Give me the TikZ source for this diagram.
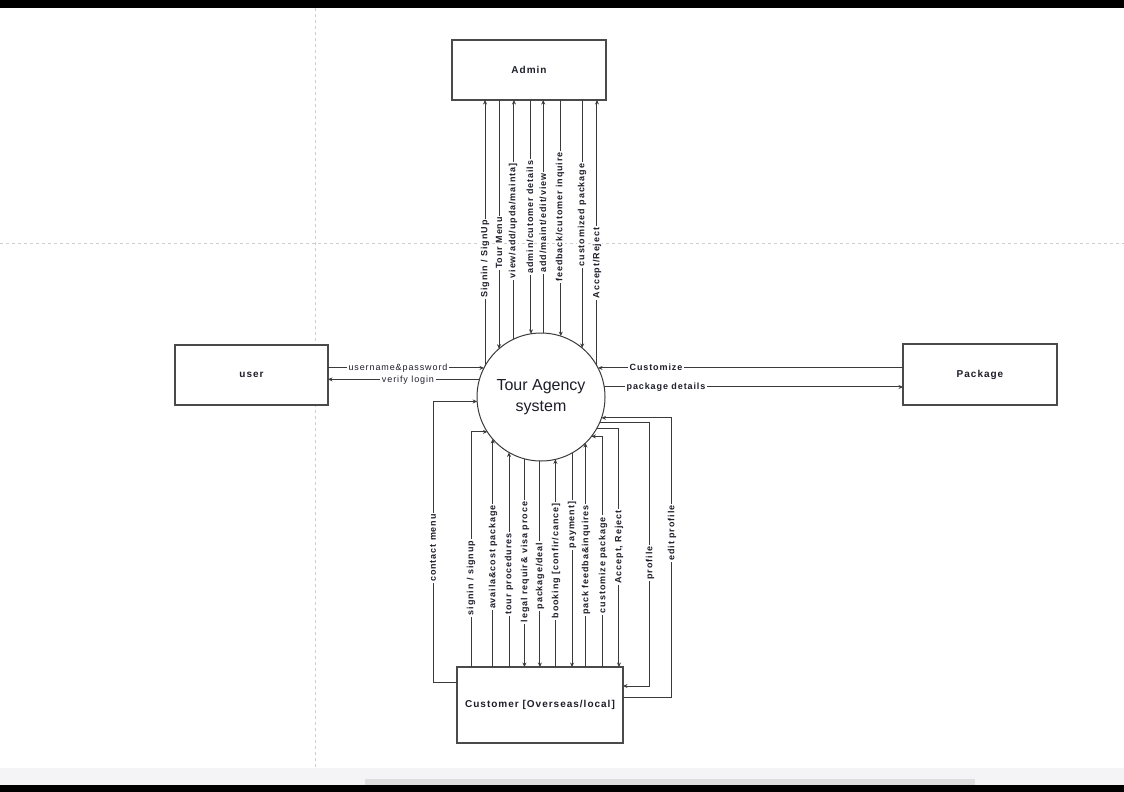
\documentclass[tikz,border=0pt]{standalone}
\usepackage{fontspec}
\setmainfont{Liberation Sans}
\newfontfamily\labfont[LetterSpace=10]{Liberation Sans}
\usetikzlibrary{arrows.meta,calc}
\definecolor{linec}{HTML}{3A3A3A}
\definecolor{boxc}{HTML}{4A4A4A}
\definecolor{gridc}{HTML}{CFCFCF}
\definecolor{txtc}{HTML}{1E1E2A}
\definecolor{stripc}{HTML}{F4F4F6}
\definecolor{scrollc}{HTML}{DEDEDE}
\begin{document}
\begin{tikzpicture}[x=1pt,y=-1pt,
  ln/.style={draw=linec,line width=1pt},
  arr/.style={ln,-{Stealth[length=4.5pt,width=4pt]}},
  box/.style={draw=boxc,line width=1.3pt,fill=white,inner sep=0pt,outer sep=0pt,text=txtc,
    font=\labfont\bfseries\fontsize{10}{12}\selectfont},
  lab/.style={fill=white,inner xsep=1.5pt,inner ysep=0.8pt,text=txtc,
    font=\labfont\bfseries\fontsize{9}{10}\selectfont},
  rlab/.style={lab,font=\labfont\fontsize{9}{10}\selectfont},
  vlab/.style={lab,rotate=90},
  grid/.style={draw=gridc,line width=0.8pt,dash pattern=on 3pt off 3pt}
]
% background and frame
\fill[white] (0,0) rectangle (1124,792);
\useasboundingbox (0,0) rectangle (1124,792);
\fill[black] (0,0) rectangle (1124,8);
\fill[stripc] (0,768) rectangle (1124,785);
\fill[scrollc] (365,779) rectangle (975,785);
\fill[black] (0,785) rectangle (1124,792);
\draw[grid] (315,8) -- (315,768);
\draw[grid] (0,243) -- (1124,243);

% entities
\node[box,minimum width=154pt,minimum height=60pt] (admin) at (529,70) {Admin};
\node[box,minimum width=153pt,minimum height=60pt] (user) at (251.5,375) {user};
\node[box,minimum width=154pt,minimum height=61pt] (pkg) at (980,374.5) {Package};
\node[box,minimum width=166pt,minimum height=76pt] (cust) at (540,705) {Customer [Overseas/local]};
\node[draw=linec,line width=1pt,circle,minimum size=128pt,inner sep=0pt,outer sep=0pt,fill=white,
  align=center,text=txtc,font=\fontsize{16}{21.5}\selectfont] (sys) at (541,397) {Tour Agency\\system};

% admin flows
\draw[arr] (sys.151) -- (sys.151 |- admin.south);
\draw[arr] (sys.131 |- admin.south) -- (sys.131);
\draw[arr] (sys.115.9) -- (sys.115.9 |- admin.south);
\draw[arr] (sys.99.9 |- admin.south) -- (sys.99.9);
\draw[arr] (sys.88.2) -- (sys.88.2 |- admin.south);
\draw[arr] (sys.72.7 |- admin.south) -- (sys.72.7);
\draw[arr] (sys.50.2 |- admin.south) -- (sys.50.2);
\draw[arr] (sys.29) -- (sys.29 |- admin.south);

% user flows
\draw[arr] (user.east |- sys.153.1) -- (sys.153.1);
\draw[arr] (sys.164.6) -- (user.east |- sys.164.6);

% package flows
\draw[arr] (sys.27.9 -| pkg.west) -- (sys.27.9);
\draw[arr] (sys.9) -- (sys.9 -| pkg.west);

% customer flows
\coordinate (b1) at ($(sys.213.2)+(-16,0)$);
\coordinate (b2) at ($(sys.322.4)+(11,0)$);
\coordinate (b3) at ($(sys.331)+(22,0)$);
\coordinate (b4) at ($(sys.337)+(50,0)$);
\coordinate (b5) at ($(sys.341.8)+(70,0)$);
\draw[arr] ($(cust.north west)+(0,15)$) -| ($(sys.184.5)+(-44,0)$) -- (sys.184.5);
\draw[arr] (b1 |- cust.north) -- (b1) -- (sys.213.2);
\draw[arr] (sys.221.4 |- cust.north) -- (sys.221.4);
\draw[arr] (sys.240 |- cust.north) -- (sys.240);
\draw[arr] (sys.255.5) -- (sys.255.5 |- cust.north);
\draw[arr] (sys.269.1) -- (sys.269.1 |- cust.north);
\draw[arr] (sys.283.5 |- cust.north) -- (sys.283.5);
\draw[arr] (sys.299) -- (sys.299 |- cust.north);
\draw[arr] (sys.314.7 |- cust.north) -- (sys.314.7);
\draw[arr] (b2 |- cust.north) -- (b2) -- (sys.322.4);
\draw[arr] (sys.331) -- (b3) -- (b3 |- cust.north);
\draw[arr] (sys.337) -- (b4) |- ($(cust.north east)+(0,19)$);
\draw[arr] ($(cust.north east)+(0,30)$) -| (b5) -- (sys.341.8);

% labels: admin side
\node[vlab] (la1) at (485,259) {Signin / SignUp};
\node[vlab] (la2) at (499,243) {Tour Menu};
\node[vlab] (la3) at (513,221) {view/add/upda/mainta]};
\node[vlab] (la4) at (530,217) {admin/cutomer details};
\node[vlab] (la5) at (543,223) {add/maint/edit/view};
\node[vlab] (la6) at (560,217) {feedback/cutomer inquire};
\node[vlab] (la7) at (582,215) {customized package};
\node[vlab] (la8) at (597,263) {Accept/Reject};

% labels: user and package
\node[rlab] (lu1) at (398,368) {username\&password};
\node[rlab] (lu2) at (408,380) {verify login};
\node[lab] (lp1) at (656,367) {Customize};
\node[lab] (lp2) at (666,387) {package details};

% labels: customer side
\node[vlab] (lc1) at (433,548) {contact menu};
\node[vlab] (lc2) at (471,578) {signin / signup};
\node[vlab] (lc3) at (493,557) {availa\&cost package};
\node[vlab] (lc4) at (509,574) {tour procedures};
\node[vlab] (lc5) at (525,562) {legal requir\& visa proce};
\node[vlab] (lc6) at (540,576) {package/deal};
\node[vlab] (lc7) at (556,561) {booking [confir/cance]};
\node[vlab] (lc8) at (572,525) {payment]};
\node[vlab] (lc9) at (586,560) {pack feedba\&inquires};
\node[vlab] (lc10) at (603,565) {customize package};
\node[vlab] (lc11) at (619,547) {Accept, Reject};
\node[vlab] (lc12) at (650,563) {profile};
\node[vlab] (lc13) at (672,533) {edit profile};
\end{tikzpicture}
\end{document}
